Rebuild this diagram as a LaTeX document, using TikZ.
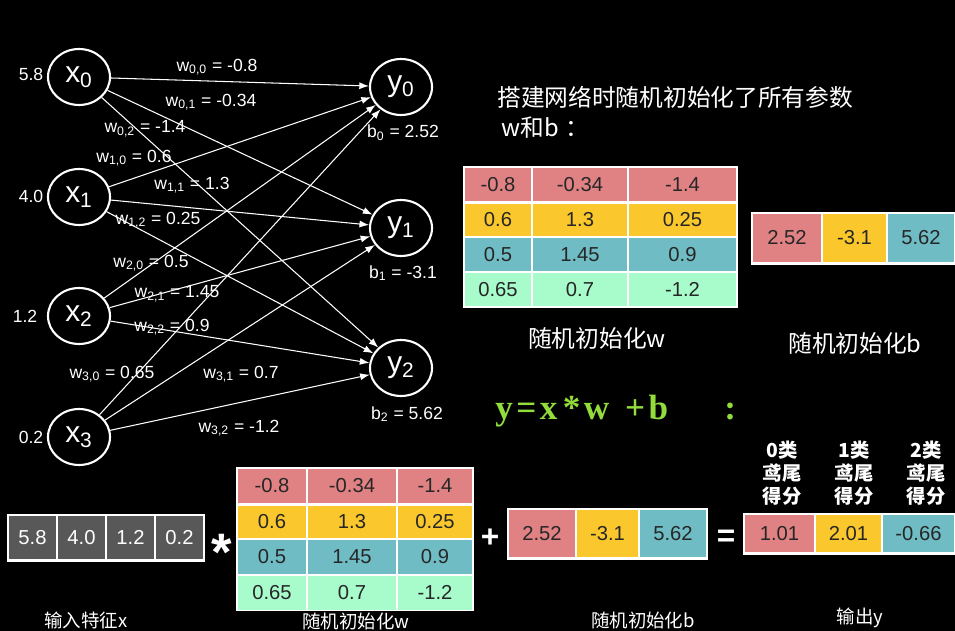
\documentclass[tikz,border=0pt]{standalone}
\usepackage{fontspec}
\setmainfont{Liberation Sans}
\newfontfamily\cjk{Noto Sans CJK SC}
\newfontfamily\tnr{Liberation Serif}
\usepackage{tikz}
\usetikzlibrary{arrows.meta,shapes.geometric}

\definecolor{cellpink}{RGB}{224,130,131}
\definecolor{cellyellow}{RGB}{250,200,45}
\definecolor{cellteal}{RGB}{112,188,196}
\definecolor{cellmint}{RGB}{168,252,204}
\definecolor{cellgray}{RGB}{88,88,88}
\definecolor{eqgreen}{RGB}{146,220,60}

\tikzset{
  neuron/.style={ellipse, draw=white, line width=1.2pt, minimum width=1.24cm,
    minimum height=1.12cm, inner sep=0pt, text=white,
    font=\fontsize{17}{17}\selectfont},
  conn/.style={white, line width=0.6pt, -{Latex[length=5.5pt,width=4pt]}},
  lbl/.style={text=white, inner sep=0pt, font=\fontsize{10}{12}\selectfont},
  cell/.style={draw=white, line width=1pt, inner sep=0pt, text=black!85,
    font=\fontsize{11.5}{12}\selectfont},
  op/.style={text=white, inner sep=0pt, font=\bfseries\fontsize{18}{18}\selectfont},
  capbig/.style={text=white, inner sep=0pt, font=\cjk\fontsize{13.5}{16}\selectfont},
  capsmall/.style={text=white, inner sep=0pt, font=\cjk\fontsize{10.5}{12}\selectfont},
  hdr/.style={text=white, inner sep=0pt, align=center,
    font=\cjk\bfseries\fontsize{11}{13}\selectfont}
}

\begin{document}
\begin{tikzpicture}[x=0.02cm, y=-0.02cm]
\fill [black] (0,0) rectangle (955,631);
\useasboundingbox (0,0) rectangle (955,631);
% network
\node [neuron] (x0) at (79,77) {x\textsubscript{0}};
\node [neuron] (x1) at (79,197) {x\textsubscript{1}};
\node [neuron] (x2) at (79,316) {x\textsubscript{2}};
\node [neuron] (x3) at (79,437) {x\textsubscript{3}};
\node [neuron] (y0) at (401,87) {y\textsubscript{0}};
\node [neuron] (y1) at (401,228) {y\textsubscript{1}};
\node [neuron] (y2) at (401,368) {y\textsubscript{2}};
\node [lbl] (v0) at (31,74) {5.8};
\node [lbl] (v1) at (31,196) {4.0};
\node [lbl] (v2) at (25,316) {1.2};
\node [lbl] (v3) at (31,437) {0.2};
\node [lbl] (b0) at (403,133) {b\textsubscript{0} = 2.52};
\node [lbl] (b1) at (403,273) {b\textsubscript{1} = -3.1};
\node [lbl] (b2) at (407,414) {b\textsubscript{2} = 5.62};
\draw [conn] (x0) -- (y0);
\draw [conn] (x0) -- (y1);
\draw [conn] (x0) -- (y2);
\draw [conn] (x1) -- (y0);
\draw [conn] (x1) -- (y1);
\draw [conn] (x1) -- (y2);
\draw [conn] (x2) -- (y0);
\draw [conn] (x2) -- (y1);
\draw [conn] (x2) -- (y2);
\draw [conn] (x3) -- (y0);
\draw [conn] (x3) -- (y1);
\draw [conn] (x3) -- (y2);
\node [lbl] (w00) at (217,67) {w\textsubscript{0,0} = -0.8};
\node [lbl] (w01) at (211,102) {w\textsubscript{0,1} = -0.34};
\node [lbl] (w02) at (145,129) {w\textsubscript{0,2} = -1.4};
\node [lbl] (w10) at (134,158) {w\textsubscript{1,0} = 0.6};
\node [lbl] (w11) at (192,185) {w\textsubscript{1,1} = 1.3};
\node [lbl] (w12) at (158,220) {w\textsubscript{1,2} = 0.25};
\node [lbl] (w20) at (151,263) {w\textsubscript{2,0} = 0.5};
\node [lbl] (w21) at (177,294) {w\textsubscript{2,1} = 1.45};
\node [lbl] (w22) at (172,327) {w\textsubscript{2,2} = 0.9};
\node [lbl] (w30) at (112,374) {w\textsubscript{3,0} = 0.65};
\node [lbl] (w31) at (241,374) {w\textsubscript{3,1} = 0.7};
\node [lbl] (w32) at (239,428) {w\textsubscript{3,2} = -1.2};
% parameters
\node [capbig, anchor=west] (title) at (497,97) {搭建网络时随机初始化了所有参数};
\node [capbig, anchor=west] (title2) at (501,128) {w和b\hspace{4pt}：};
\node [cell, fill=cellpink, minimum width=1.36cm, minimum height=0.7cm] (wa00) at (498,184.5) {-0.8};
\node [cell, fill=cellpink, minimum width=1.92cm, minimum height=0.7cm] (wa01) at (580,184.5) {-0.34};
\node [cell, fill=cellpink, minimum width=2.18cm, minimum height=0.7cm] (wa02) at (682.5,184.5) {-1.4};
\node [cell, fill=cellyellow, minimum width=1.36cm, minimum height=0.7cm] (wa10) at (498,219.5) {0.6};
\node [cell, fill=cellyellow, minimum width=1.92cm, minimum height=0.7cm] (wa11) at (580,219.5) {1.3};
\node [cell, fill=cellyellow, minimum width=2.18cm, minimum height=0.7cm] (wa12) at (682.5,219.5) {0.25};
\node [cell, fill=cellteal, minimum width=1.36cm, minimum height=0.7cm] (wa20) at (498,254.5) {0.5};
\node [cell, fill=cellteal, minimum width=1.92cm, minimum height=0.7cm] (wa21) at (580,254.5) {1.45};
\node [cell, fill=cellteal, minimum width=2.18cm, minimum height=0.7cm] (wa22) at (682.5,254.5) {0.9};
\node [cell, fill=cellmint, minimum width=1.36cm, minimum height=0.7cm] (wa30) at (498,289.5) {0.65};
\node [cell, fill=cellmint, minimum width=1.92cm, minimum height=0.7cm] (wa31) at (580,289.5) {0.7};
\node [cell, fill=cellmint, minimum width=2.18cm, minimum height=0.7cm] (wa32) at (682.5,289.5) {-1.2};
\draw [white, line width=1.5pt] (wa00.south west) -- (wa02.south east);
\node [cell, fill=cellpink, minimum width=1.4cm, minimum height=1cm] (ba0) at (787,238) {2.52};
\node [cell, fill=cellyellow, minimum width=1.3cm, minimum height=1cm] (ba1) at (854.5,238) {-3.1};
\node [cell, fill=cellteal, minimum width=1.36cm, minimum height=1cm] (ba2) at (921,238) {5.62};
\draw [white, line width=1.5pt] (ba0.south west) -- (ba2.south east);
\node [capbig] (capw1) at (597,338) {随机初始化w};
\node [capbig] (capb1) at (855,343) {随机初始化b};
% y = x * w + b
\node [anchor=west, text=eqgreen, inner sep=0pt,
  font=\tnr\bfseries\fontsize{20}{20}\selectfont] (eq) at (495,411)
  {y\hspace{2pt}=\hspace{2pt}x\hspace{3pt}*\hspace{2pt}w\hspace{9pt}+\hspace{2pt}b\hspace{32pt}:};
\node [hdr] (h0) at (782,473) {0类\\鸢尾\\得分};
\node [hdr] (h1) at (854,473) {1类\\鸢尾\\得分};
\node [hdr] (h2) at (926,473) {2类\\鸢尾\\得分};
% x vector
\node [cell, fill=cellgray, text=white, minimum width=0.98cm, minimum height=0.9cm] (xa0) at (32.5,537.5) {5.8};
\node [cell, fill=cellgray, text=white, minimum width=0.98cm, minimum height=0.9cm] (xa1) at (81.5,537.5) {4.0};
\node [cell, fill=cellgray, text=white, minimum width=0.98cm, minimum height=0.9cm] (xa2) at (130.5,537.5) {1.2};
\node [cell, fill=cellgray, text=white, minimum width=0.98cm, minimum height=0.9cm] (xa3) at (179.5,537.5) {0.2};
\draw [white, line width=1.5pt] (xa0.south west) -- (xa3.south east);
\node [op, font=\bfseries\fontsize{30}{30}\selectfont] (times) at (222,552) {*};
% w matrix
\node [cell, fill=cellpink, minimum width=1.4cm, minimum height=0.715cm] (wb00) at (272,486) {-0.8};
\node [cell, fill=cellpink, minimum width=1.8cm, minimum height=0.715cm] (wb01) at (352,486) {-0.34};
\node [cell, fill=cellpink, minimum width=1.52cm, minimum height=0.715cm] (wb02) at (435,486) {-1.4};
\node [cell, fill=cellyellow, minimum width=1.4cm, minimum height=0.715cm] (wb10) at (272,521.5) {0.6};
\node [cell, fill=cellyellow, minimum width=1.8cm, minimum height=0.715cm] (wb11) at (352,521.5) {1.3};
\node [cell, fill=cellyellow, minimum width=1.52cm, minimum height=0.715cm] (wb12) at (435,521.5) {0.25};
\node [cell, fill=cellteal, minimum width=1.4cm, minimum height=0.715cm] (wb20) at (272,557) {0.5};
\node [cell, fill=cellteal, minimum width=1.8cm, minimum height=0.715cm] (wb21) at (352,557) {1.45};
\node [cell, fill=cellteal, minimum width=1.52cm, minimum height=0.715cm] (wb22) at (435,557) {0.9};
\node [cell, fill=cellmint, minimum width=1.4cm, minimum height=0.715cm] (wb30) at (272,592.5) {0.65};
\node [cell, fill=cellmint, minimum width=1.8cm, minimum height=0.715cm] (wb31) at (352,592.5) {0.7};
\node [cell, fill=cellmint, minimum width=1.52cm, minimum height=0.715cm] (wb32) at (435,592.5) {-1.2};
\draw [white, line width=1.5pt] (wb00.south west) -- (wb02.south east);
\node [op] (plus) at (490,538) {+};
% b vector
\node [cell, fill=cellpink, minimum width=1.36cm, minimum height=0.98cm] (bb0) at (542,533.5) {2.52};
\node [cell, fill=cellyellow, minimum width=1.26cm, minimum height=0.98cm] (bb1) at (607.5,533.5) {-3.1};
\node [cell, fill=cellteal, minimum width=1.36cm, minimum height=0.98cm] (bb2) at (673,533.5) {5.62};
\draw [white, line width=1.5pt] (bb0.south west) -- (bb2.south east);
\node [op] (equals) at (726,538) {=};
% output
\node [cell, fill=cellpink, minimum width=1.42cm, minimum height=0.78cm] (ya0) at (779.5,533.5) {1.01};
\node [cell, fill=cellyellow, minimum width=1.34cm, minimum height=0.78cm] (ya1) at (848.5,533.5) {2.01};
\node [cell, fill=cellteal, minimum width=1.46cm, minimum height=0.78cm] (ya2) at (918.5,533.5) {-0.66};
\draw [white, line width=1.5pt] (ya0.south west) -- (ya2.south east);
\node [capsmall] (capx) at (86,620) {输入特征x};
\node [capsmall] (capw2) at (356,621) {随机初始化w};
\node [capsmall] (capb2) at (643,620) {随机初始化b};
\node [capsmall] (capy) at (860,618) {输出y};
\end{tikzpicture}
\end{document}
